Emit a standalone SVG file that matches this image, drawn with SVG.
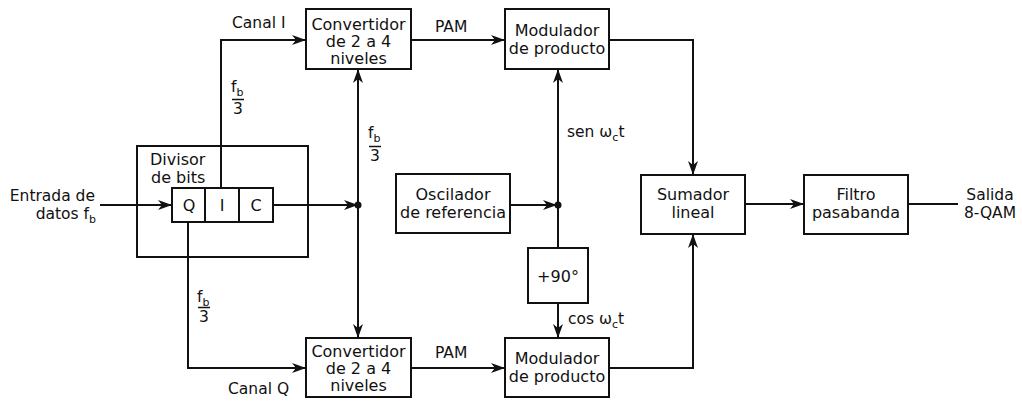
<svg xmlns="http://www.w3.org/2000/svg" width="1022" height="401" viewBox="0 0 1022 401">
<style>
.box{fill:#fff;stroke:#111;stroke-width:2}
.frame{fill:none;stroke:#111;stroke-width:2}
.ln{fill:none;stroke:#111;stroke-width:2}
.bar{fill:none;stroke:#111;stroke-width:1.5}
.arr{marker-end:url(#ah)}
text{font-family:"DejaVu Sans","Liberation Sans",sans-serif;font-size:16px;fill:#111}
.c{text-anchor:middle}
.r{text-anchor:end}
.lb{font-size:15.5px}
.sub{font-size:11px}
</style>
<defs>
<marker id="ah" markerUnits="userSpaceOnUse" markerWidth="14" markerHeight="10" refX="13" refY="5" orient="auto">
<path d="M0,0 L14,5 L0,10 L4,5 z" fill="#111"/>
</marker>
</defs>
<rect width="1022" height="401" fill="#fff"/>

<g id="divisor">
<rect class="frame" x="137" y="146" width="171" height="111"/>
<text x="150" y="165">Divisor</text>
<text x="151" y="183">de bits</text>
</g>

<g id="connectors">
<path class="ln arr" d="M100,205 H171"/>
<path class="ln arr" d="M273,205 H357"/>
<path class="ln arr" d="M221,188 V40 H305"/>
<path class="ln arr" d="M188,222 V368 H305"/>
<path class="ln arr" d="M358,205 V70"/>
<path class="ln arr" d="M358,205 V337"/>
<path class="ln arr" d="M411,40 H504"/>
<path class="ln arr" d="M411,368 H504"/>
<path class="ln arr" d="M510,205 H556"/>
<path class="ln arr" d="M558,205 V70"/>
<path class="ln" d="M558,205 V248"/>
<path class="ln arr" d="M558,303 V337"/>
<path class="ln arr" d="M609,40 H693 V174"/>
<path class="ln arr" d="M609,368 H693 V235"/>
<path class="ln arr" d="M745,204 H803"/>
<path class="ln" d="M908,204 H958"/>
<circle cx="358" cy="205" r="3.5" fill="#111"/>
<circle cx="558" cy="205" r="3.5" fill="#111"/>
</g>

<g id="qic">
<rect class="box" x="172" y="188" width="101" height="34"/>
<line class="ln" x1="205" y1="188" x2="205" y2="222"/>
<line class="ln" x1="239" y1="188" x2="239" y2="222"/>
<text class="c" x="189" y="211">Q</text>
<text class="c" x="222" y="211">I</text>
<text class="c" x="256" y="211">C</text>
</g>

<g id="conv-top">
<rect class="box" x="306" y="9" width="105" height="60"/>
<text class="c" x="358.5" y="30">Convertidor</text>
<text class="c" x="358.5" y="47">de 2 a 4</text>
<text class="c" x="358.5" y="64">niveles</text>
</g>
<g id="conv-bot">
<rect class="box" x="306" y="338" width="105" height="59"/>
<text class="c" x="358.5" y="357">Convertidor</text>
<text class="c" x="358.5" y="374">de 2 a 4</text>
<text class="c" x="358.5" y="391">niveles</text>
</g>
<g id="mod-top">
<rect class="box" x="505" y="9" width="104" height="60"/>
<text class="c" x="557" y="36">Modulador</text>
<text class="c" x="557" y="54">de producto</text>
</g>
<g id="mod-bot">
<rect class="box" x="505" y="338" width="104" height="59"/>
<text class="c" x="557" y="364">Modulador</text>
<text class="c" x="557" y="382">de producto</text>
</g>
<g id="oscilador">
<rect class="box" x="396" y="174" width="114" height="59"/>
<text class="c" x="453" y="200">Oscilador</text>
<text class="c" x="453" y="218">de referencia</text>
</g>
<g id="desfase">
<rect class="box" x="528" y="248" width="60" height="55"/>
<text class="c" x="558" y="282">+90°</text>
</g>
<g id="sumador">
<rect class="box" x="641" y="175" width="104" height="59"/>
<text class="c" x="693" y="200">Sumador</text>
<text class="c" x="693" y="218">lineal</text>
</g>
<g id="filtro">
<rect class="box" x="804" y="175" width="104" height="59"/>
<text class="c" x="856" y="200">Filtro</text>
<text class="c" x="856" y="218">pasabanda</text>
</g>

<g id="labels">
<text class="lb r" x="95" y="201">Entrada de</text>
<text class="lb r" x="96" y="219">datos f<tspan class="sub" dy="4">b</tspan></text>
<text class="lb c" x="990" y="200">Salida</text>
<text class="lb c" x="990" y="218">8-QAM</text>
<text class="lb" x="232" y="28">Canal I</text>
<text class="lb" x="228" y="394">Canal Q</text>
<text class="lb" x="435" y="32">PAM</text>
<text class="lb" x="435" y="358">PAM</text>
<text class="lb" x="567" y="137">sen ω<tspan class="sub" dy="4">c</tspan><tspan dy="-4">t</tspan></text>
<text class="lb" x="568" y="324">cos ω<tspan class="sub" dy="4">c</tspan><tspan dy="-4">t</tspan></text>
<text class="lb" x="231" y="92">f<tspan class="sub" dy="4">b</tspan></text>
<line class="bar" x1="232" y1="99.5" x2="244" y2="99.5"/>
<text class="lb" x="233" y="114">3</text>
<text class="lb" x="368" y="138">f<tspan class="sub" dy="4">b</tspan></text>
<line class="bar" x1="369" y1="146.5" x2="381" y2="146.5"/>
<text class="lb" x="370" y="161">3</text>
<text class="lb" x="197" y="302">f<tspan class="sub" dy="4">b</tspan></text>
<line class="bar" x1="198" y1="307.5" x2="210" y2="307.5"/>
<text class="lb" x="199" y="322">3</text>
</g>
</svg>
